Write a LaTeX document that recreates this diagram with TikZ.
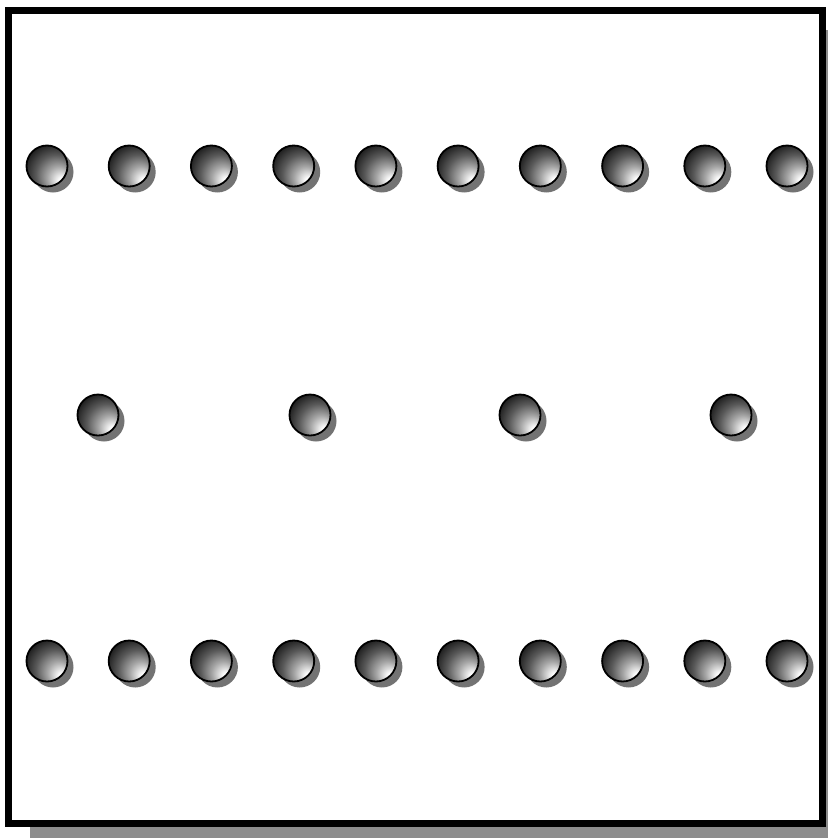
\documentclass[tikz,border=0pt]{standalone}
\pgfdeclareradialshading{ballshade}{\pgfpoint{20bp}{-20bp}}{%
  color(0bp)=(white); color(4bp)=(white); color(14bp)=(black!35);
  color(24bp)=(black!65); color(34bp)=(black!88); color(42bp)=(black);
  color(50bp)=(black)}
\tikzset{
  ballbody/.style={shading=ballshade, draw=black, line width=1.8pt},
  ballshadow/.style={fill=black!55, draw=none},
  frameline/.style={draw=black, line width=7pt},
  frameshadow/.style={fill=black!45, draw=none}
}
\begin{document}
\begin{tikzpicture}[x=1pt,y=-1pt]
\useasboundingbox (0,0) rectangle (828,838);
\fill[white] (0,0) rectangle (828,838);
% frame shadow
\fill[frameshadow] (30,826) rectangle (828,838);
\fill[frameshadow] (825,30) rectangle (828,838);
% frame
\draw[frameline] (8,10) rectangle (822,823);
% balls
\newcommand{\myball}[2]{%
  \fill[ballshadow] (#1+6,#2+6) circle (20.5);
  \shade[ballbody] (#1,#2) circle (20.5);
}
\foreach \x in {47,129.2,211.4,293.7,375.9,458.1,540.3,622.6,704.8,787} {
  \myball{\x}{166}
  \myball{\x}{661}
}
\foreach \x in {98,310,520,731} {
  \myball{\x}{415}
}
\end{tikzpicture}
\end{document}
